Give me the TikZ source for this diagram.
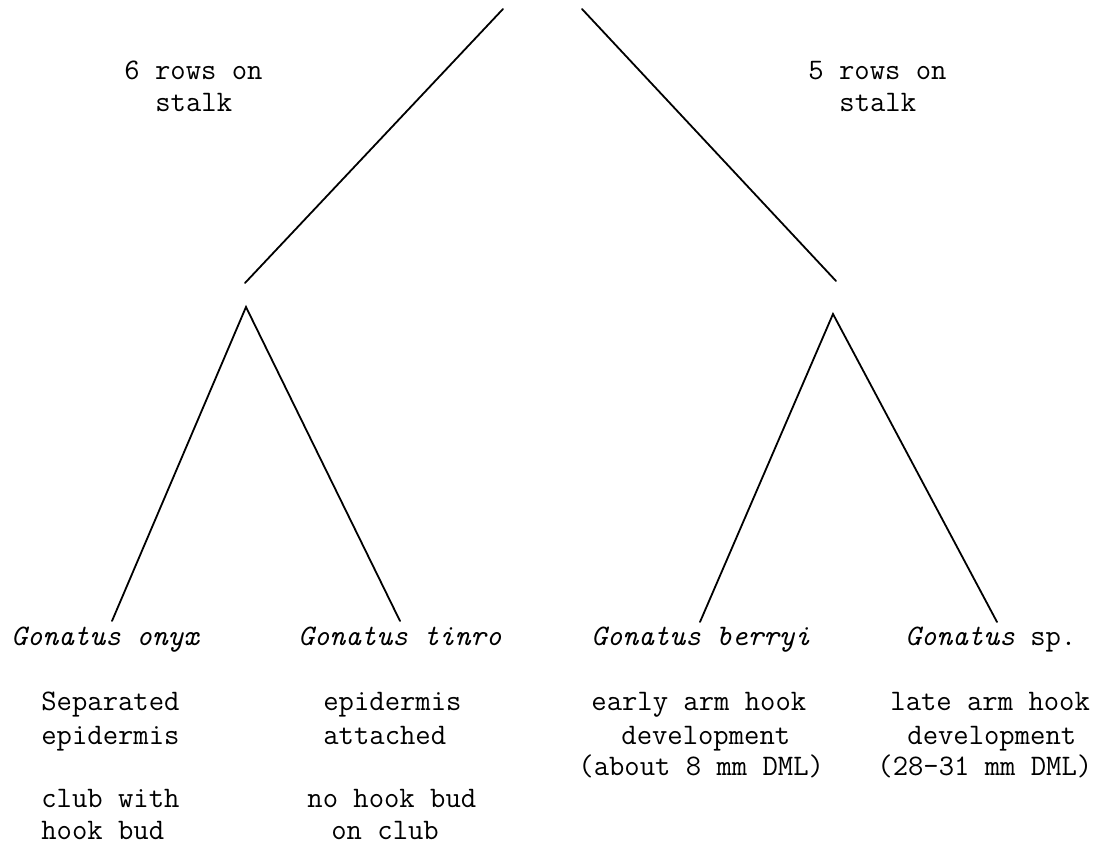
\documentclass[tikz,border=0pt]{standalone}
\usepackage{fontspec}
\begin{document}
\begin{tikzpicture}[x=0.5pt, y=-0.5pt,
  branch/.style={line width=0.9pt, line cap=round},
  lbl/.style={font=\ttfamily\fontsize{14.9}{17}\selectfont, inner sep=0pt, anchor=base west},
  taxon/.style={lbl, font=\ttfamily\itshape\fontsize{14.9}{17}\selectfont}]
\useasboundingbox (0,0) rectangle (1104,844);

% branch points of the key
\coordinate (topL) at (503,9);
\coordinate (topR) at (582,9);
\coordinate (endL) at (245,283);
\coordinate (endR) at (836,281);
\coordinate (forkL) at (246,307);
\coordinate (forkR) at (833,314);
\coordinate (onyx) at (112,621);
\coordinate (tinro) at (400,621);
\coordinate (berryi) at (700,622);
\coordinate (sp) at (997,622);

% first split: rows of suckers on the stalk
\draw[branch] (topL) -- (endL);
\draw[branch] (topR) -- (endR);
\node[lbl] (six1) at (124,80) {6 rows on};
\node[lbl] (six2) at (155,112) {stalk};
\node[lbl] (five1) at (808,80) {5 rows on};
\node[lbl] (five2) at (839,112) {stalk};

% second splits
\draw[branch] (onyx) -- (forkL) -- (tinro);
\draw[branch] (berryi) -- (forkR) -- (sp);

% species
\node[taxon] (nOnyx) at (11,646) {Gonatus onyx};
\node[taxon] (nTinro) at (298,646) {Gonatus tinro};
\node[taxon] (nBerryi) at (591,646) {Gonatus berryi};
\node[lbl] (nSp) at (905,646) {\itshape Gonatus\upshape{} sp.};

% characters of each species
\node[lbl] (a1) at (41,711) {Separated};
\node[lbl] (a2) at (41,744) {epidermis};
\node[lbl] (a3) at (41,807) {club with};
\node[lbl] (a4) at (41,839) {hook bud};

\node[lbl] (b1) at (323,711) {epidermis};
\node[lbl] (b2) at (323,744) {attached};
\node[lbl] (b3) at (307,807) {no hook bud};
\node[lbl] (b4) at (331,839) {on club};

\node[lbl] (c1) at (591,711) {early arm hook};
\node[lbl] (c2) at (621,744) {development};
\node[lbl] (c3) at (578,776) {(about 8 mm DML)};

\node[lbl] (d1) at (890,711) {late arm hook};
\node[lbl] (d2) at (907,744) {development};
\node[lbl] (d3) at (877,776) {(28-31 mm DML)};
\end{tikzpicture}
\end{document}
